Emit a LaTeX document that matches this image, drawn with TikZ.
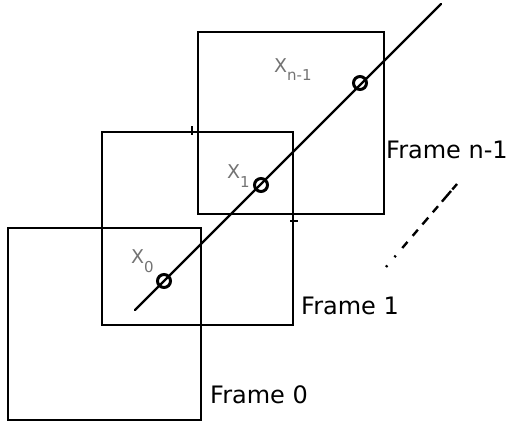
\documentclass[tikz,border=0pt]{standalone}
\usepackage{fontspec}
\setmainfont{DejaVu Sans}
\begin{document}
\begin{tikzpicture}[x=1pt,y=-1pt,
  frame/.style={draw, line width=1.8pt, inner sep=0pt, rectangle},
  ring/.style={draw, circle, line width=3pt, minimum size=13pt, inner sep=0pt},
  ftext/.style={anchor=base west, inner sep=0pt, font=\fontsize{24}{24}\selectfont},
  xlab/.style={anchor=base west, inner sep=0pt, text=black!55}]
\useasboundingbox (0,0) rectangle (513,425);
% frames
\node[frame, minimum width=193pt, minimum height=192pt] (f0) at (104.5,324) {};
\node[frame, minimum width=191pt, minimum height=193pt] (f1) at (197.5,228.5) {};
\node[frame, minimum width=186pt, minimum height=182pt] (fn) at (291,123) {};
% ticks
\coordinate (t1a) at (192,126);
\coordinate (t1b) at (192,135);
\draw[line width=1.5pt] (t1a) -- (t1b);
\coordinate (t2a) at (290,221);
\coordinate (t2b) at (298,221);
\draw[line width=1.5pt] (t2a) -- (t2b);
% trajectory
\coordinate (ls) at (135,310);
\coordinate (le) at (441,4);
\draw[line width=2.4pt, line cap=round] (ls) -- (le);
\node[ring] (c0) at (164,281) {};
\node[ring] (c1) at (261,185) {};
\node[ring] (cn) at (360,83) {};
% labels
\node[xlab] (x0) at (131,263) {{\fontsize{19}{19}\selectfont X}\raisebox{-9pt}{\fontsize{15}{15}\selectfont 0}};
\node[xlab] (x1) at (227,178) {{\fontsize{19}{19}\selectfont X}\raisebox{-9pt}{\fontsize{15}{15}\selectfont 1}};
\node[xlab] (xn) at (274,73) {{\fontsize{19}{19}\selectfont X}\raisebox{-8pt}{\fontsize{15}{15}\selectfont n-1}};
\node[ftext] (l0) at (210,403) {Frame 0};
\node[ftext] (l1) at (301,314) {Frame 1};
\node[ftext] (ln) at (386,158) {Frame n-1};
% dots
\coordinate (ds) at (386,267);
\coordinate (de) at (457,184);
\draw[line width=2.4pt, dash pattern=on 2pt off 11pt on 2pt off 10pt on 8pt off 8pt on 8pt off 7pt on 9pt off 7pt on 8pt off 6pt on 14pt] (ds) -- (de);
\end{tikzpicture}
\end{document}
